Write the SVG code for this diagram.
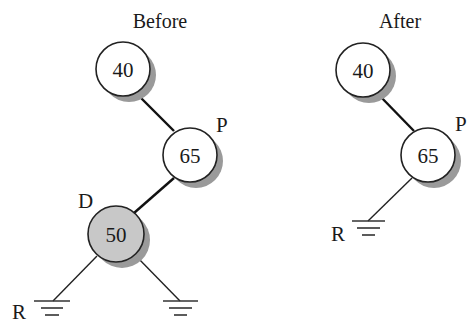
<svg xmlns="http://www.w3.org/2000/svg" width="467" height="325" viewBox="0 0 467 325">
<defs>
<style>
text{font-family:"Liberation Serif","Times New Roman",serif;fill:#1a1a1a}
.t{font-size:20px;text-anchor:middle}
.n{font-size:21px;text-anchor:middle}
.l{font-size:21px}
.sh{fill:#9a9a9a;stroke:none}
.c{fill:#fff;stroke:#222;stroke-width:1.6}
.cg{fill:#c8c8c8;stroke:#222;stroke-width:1.6}
.e{stroke:#111;stroke-width:2.4;fill:none}
.e2{stroke:#222;stroke-width:1.4;fill:none}
.g{stroke:#333;stroke-width:1.6;fill:none}
</style>
</defs>
<rect width="467" height="325" fill="#fff"/>
<text class="t" x="160" y="28">Before</text>
<text class="t" x="400" y="28">After</text>
<g id="connectors">
<line class="e" x1="137" y1="94" x2="174" y2="131"/>
<line class="e" x1="174" y1="178" x2="134" y2="213"/>
<line class="e2" x1="97" y1="256" x2="53" y2="301"/>
<line class="e2" x1="136" y1="256" x2="180" y2="301"/>
<line class="e" x1="378" y1="94" x2="414" y2="131"/>
<line class="e2" x1="412" y1="178" x2="368" y2="221"/>
</g>
<g id="b40">
<circle class="sh" cx="129" cy="75" r="27"/>
<circle class="c" cx="123" cy="69" r="27"/>
<text class="n" x="123" y="77">40</text>
</g>
<g id="b65">
<circle class="sh" cx="196" cy="161" r="27"/>
<circle class="c" cx="190" cy="155" r="27"/>
<text class="n" x="190" y="163">65</text>
<text class="l" x="216" y="132">P</text>
</g>
<g id="b50">
<circle class="sh" cx="122" cy="240" r="28"/>
<circle class="cg" cx="116" cy="234" r="28"/>
<text class="n" x="116" y="242">50</text>
<text class="l" x="78" y="208">D</text>
</g>
<g id="bR">
<line class="g" x1="34" y1="301" x2="70" y2="301"/>
<line class="g" x1="41" y1="308" x2="63" y2="308"/>
<line class="g" x1="45" y1="315" x2="59" y2="315"/>
<text class="l" x="12" y="319">R</text>
</g>
<g id="bG">
<line class="g" x1="163" y1="301" x2="198" y2="301"/>
<line class="g" x1="169" y1="308" x2="192" y2="308"/>
<line class="g" x1="174" y1="315" x2="187" y2="315"/>
</g>
<g id="a40">
<circle class="sh" cx="369" cy="76" r="27"/>
<circle class="c" cx="363" cy="70" r="27"/>
<text class="n" x="363" y="78">40</text>
</g>
<g id="a65">
<circle class="sh" cx="434" cy="161" r="27"/>
<circle class="c" cx="428" cy="155" r="27"/>
<text class="n" x="428" y="163">65</text>
<text class="l" x="455" y="131">P</text>
</g>
<g id="aR">
<line class="g" x1="352" y1="221" x2="385" y2="221"/>
<line class="g" x1="357" y1="228" x2="380" y2="228"/>
<line class="g" x1="362" y1="235" x2="375" y2="235"/>
<text class="l" x="331" y="241">R</text>
</g>
</svg>
